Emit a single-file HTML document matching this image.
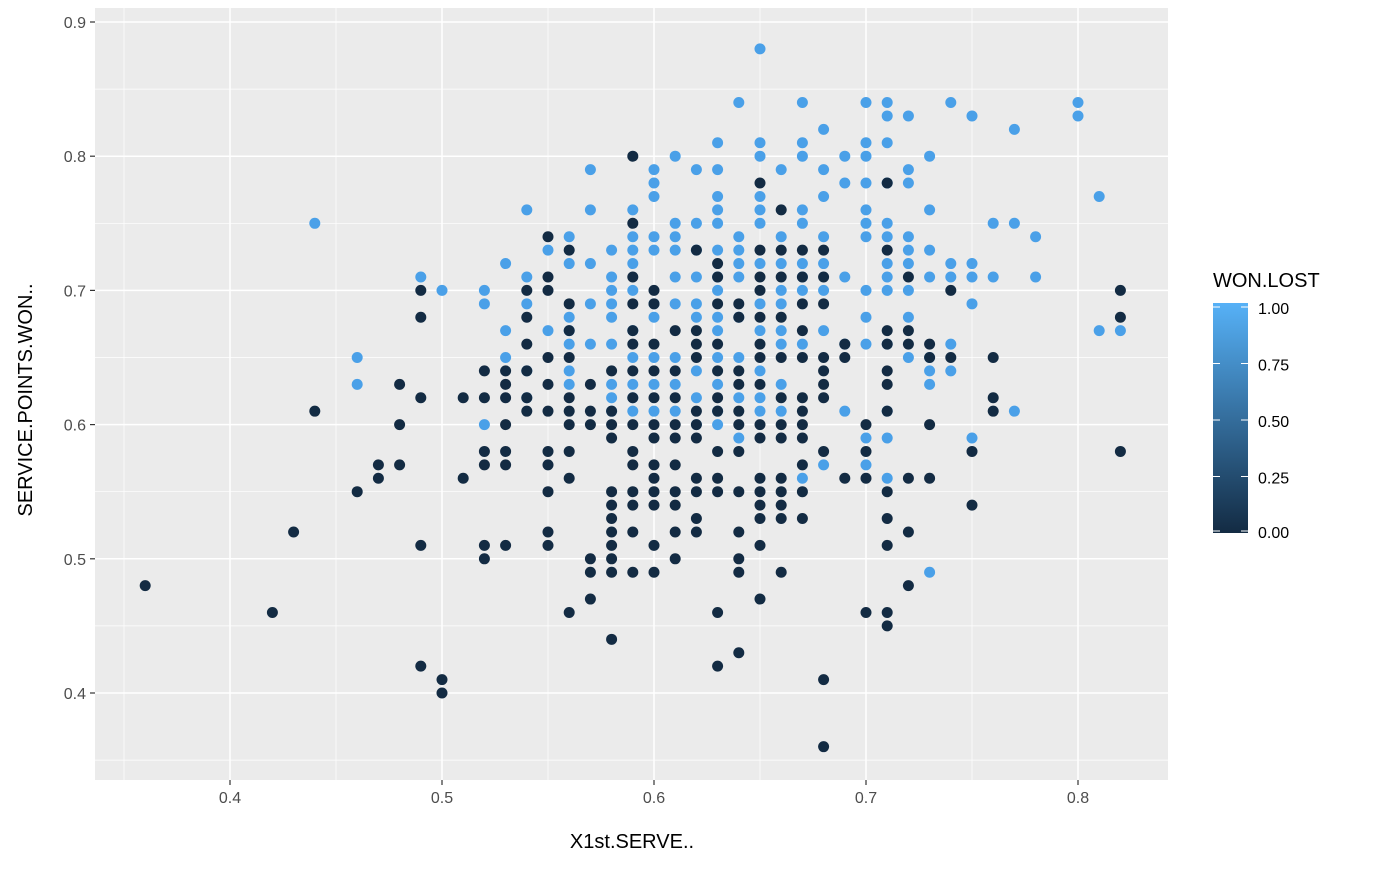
<!DOCTYPE html>
<html><head><meta charset="utf-8"><style>
body{margin:0;background:#fff;font-family:"Liberation Sans",sans-serif}
</style></head><body>
<svg id="chart" width="1400" height="865">
<defs><linearGradient id="cg" x1="0" y1="1" x2="0" y2="0">
<stop offset="0" stop-color="#132B43"/><stop offset="1" stop-color="#56B1F7"/></linearGradient></defs>
<g id="grid"></g><g id="pts"></g><g id="axes"></g>
<g>
<text x="1213" y="287" font-size="20" fill="#000">WON.LOST</text>
<rect x="1213" y="303" width="35" height="230" fill="url(#cg)"/>
<g id="leg"></g></g>
<text x="632" y="848" font-size="20" text-anchor="middle" fill="#000">X1st.SERVE..</text>
<text transform="translate(32,400) rotate(-90)" font-size="20" text-anchor="middle" fill="#000">SERVICE.POINTS.WON..</text>
</svg>
<script>
const xCats=[0.36,0.42,0.43,0.44,0.46,0.47,0.48,0.49,0.50,0.51,0.52,0.53,0.54,0.55,0.56,0.57,0.58,0.59,0.60,0.61,0.62,0.63,0.64,0.65,0.66,0.67,0.68,0.69,0.70,0.71,0.72,0.73,0.74,0.75,0.76,0.77,0.78,0.80,0.81,0.82];
const wonY=["","","","0.75","0.65 0.63","","","0.71","0.70","","0.70 0.69 0.60","0.72 0.67 0.65","0.76 0.71 0.69 0.64 0.62","0.73 0.67","0.74 0.72 0.68 0.67 0.66 0.64 0.63","0.79 0.76 0.72 0.69 0.66","0.73 0.71 0.70 0.69 0.68 0.66 0.63 0.62 0.61","0.76 0.74 0.73 0.72 0.70 0.67 0.65 0.63 0.62 0.61","0.79 0.78 0.77 0.74 0.73 0.69 0.68 0.65 0.63 0.61","0.80 0.75 0.74 0.73 0.71 0.69 0.65 0.63 0.61","0.79 0.75 0.73 0.71 0.69 0.68 0.64 0.62 0.60","0.81 0.79 0.77 0.76 0.75 0.73 0.71 0.70 0.68 0.67 0.65 0.63 0.61 0.60","0.84 0.74 0.73 0.72 0.71 0.68 0.65 0.62 0.59","0.88 0.81 0.80 0.77 0.76 0.75 0.72 0.69 0.67 0.64 0.62 0.61","0.79 0.74 0.72 0.70 0.69 0.67 0.66 0.63 0.61","0.84 0.81 0.80 0.76 0.75 0.72 0.71 0.70 0.66 0.56","0.82 0.79 0.77 0.74 0.72 0.70 0.67 0.57","0.80 0.78 0.71 0.66 0.61","0.84 0.81 0.80 0.78 0.76 0.75 0.74 0.70 0.68 0.66 0.59 0.57","0.84 0.83 0.81 0.78 0.75 0.74 0.72 0.71 0.70 0.66 0.61 0.59 0.56","0.83 0.79 0.78 0.74 0.73 0.72 0.70 0.68 0.65","0.80 0.76 0.73 0.71 0.65 0.64 0.63 0.49","0.84 0.72 0.71 0.66 0.64","0.83 0.72 0.71 0.69 0.59","0.75 0.71","0.82 0.75 0.61","0.74 0.71","0.84 0.83","0.77 0.67","0.67"];
const lostY=["0.48","0.46","0.52","0.61","0.55","0.57 0.56","0.63 0.60 0.57","0.70 0.68 0.62 0.51 0.42","0.41 0.40","0.62 0.56","0.64 0.62 0.58 0.57 0.51 0.50","0.64 0.63 0.62 0.60 0.58 0.57 0.51","0.70 0.68 0.66 0.64 0.62 0.61","0.74 0.71 0.70 0.65 0.63 0.61 0.58 0.57 0.55 0.52 0.51","0.73 0.69 0.67 0.65 0.62 0.61 0.60 0.58 0.56 0.46","0.63 0.61 0.60 0.50 0.49 0.47","0.64 0.61 0.60 0.59 0.55 0.54 0.53 0.52 0.51 0.50 0.49 0.44","0.80 0.75 0.71 0.69 0.67 0.66 0.64 0.62 0.60 0.58 0.57 0.55 0.54 0.52 0.49","0.70 0.69 0.66 0.64 0.62 0.60 0.59 0.57 0.56 0.55 0.54 0.51 0.49","0.67 0.64 0.62 0.60 0.59 0.57 0.55 0.54 0.52 0.50","0.73 0.67 0.66 0.65 0.61 0.60 0.59 0.56 0.55 0.53 0.52","0.72 0.71 0.69 0.66 0.64 0.62 0.61 0.58 0.56 0.55 0.46 0.42","0.69 0.68 0.64 0.63 0.61 0.60 0.58 0.55 0.52 0.50 0.49 0.43","0.78 0.73 0.71 0.70 0.68 0.66 0.65 0.63 0.60 0.59 0.56 0.55 0.54 0.53 0.51 0.47","0.76 0.73 0.71 0.68 0.65 0.62 0.60 0.59 0.56 0.55 0.54 0.53 0.49","0.73 0.71 0.69 0.67 0.65 0.62 0.61 0.60 0.59 0.57 0.55 0.53","0.73 0.71 0.69 0.65 0.64 0.63 0.62 0.58 0.41 0.36","0.66 0.65 0.56","0.60 0.58 0.56 0.46","0.78 0.73 0.67 0.66 0.64 0.63 0.61 0.55 0.53 0.51 0.46 0.45","0.71 0.67 0.66 0.56 0.52 0.48","0.66 0.65 0.60 0.56","0.70 0.65","0.58 0.54","0.65 0.62 0.61","","","","","0.70 0.68 0.58"];
const xTicks=[0.4,0.5,0.6,0.7,0.8];
const yTicks=[0.4,0.5,0.6,0.7,0.8,0.9];
const legTicks=["0.00","0.25","0.50","0.75","1.00"];
const NS="http://www.w3.org/2000/svg";
const X=v=>230+(v-0.4)*2120, Y=v=>693-(v-0.4)*1342;
const P={l:95,r:1168,t:8,b:780};
function mk(tag,at,parent){const e=document.createElementNS(NS,tag);for(const k in at)e.setAttribute(k,at[k]);parent.appendChild(e);return e;}
const g=document.getElementById('grid'),ax=document.getElementById('axes'),pg=document.getElementById('pts');
const bg=mk('rect',{x:P.l,y:P.t,width:P.r-P.l,height:P.b-P.t,fill:'#EBEBEB'},g);


for(let v=0.35;v<0.86;v+=0.1){const l=mk('line',{x1:X(v),x2:X(v),y1:P.t,y2:P.b,stroke:'#fff','stroke-width':0.7},g);

}
for(let v=0.35;v<0.9;v+=0.1){const l=mk('line',{x1:P.l,x2:P.r,y1:Y(v),y2:Y(v),stroke:'#fff','stroke-width':0.7},g);

}
xTicks.forEach(v=>{const l=mk('line',{x1:X(v),x2:X(v),y1:P.t,y2:P.b,stroke:'#fff','stroke-width':1.5},g);


mk('line',{x1:X(v),x2:X(v),y1:P.b,y2:P.b+5,stroke:'#333','stroke-width':1.2},ax);
const t=mk('text',{x:X(v),y:P.b+23,'font-size':16,'text-anchor':'middle',fill:'#4D4D4D'},ax);t.textContent=v.toFixed(1);

});
yTicks.forEach(v=>{const l=mk('line',{x1:P.l,x2:P.r,y1:Y(v),y2:Y(v),stroke:'#fff','stroke-width':1.5},g);


mk('line',{x1:P.l-5,x2:P.l,y1:Y(v),y2:Y(v),stroke:'#333','stroke-width':1.2},ax);
const t=mk('text',{x:P.l-9,y:Y(v)+6,'font-size':16,'text-anchor':'end',fill:'#4D4D4D'},ax);t.textContent=v.toFixed(1);

});
function draw(arr,col,name){arr.forEach((s,i)=>{if(!s)return;s.split(' ').forEach(y=>{const c=mk('circle',{cx:X(xCats[i]),cy:Y(+y),r:5.5,fill:col},pg);

});});}
draw(wonY,'#4AA0E8','point-won');
draw(lostY,'#132B43','point-lost');
const lg=document.getElementById('leg');
legTicks.forEach((s,i)=>{const y=533-i*56.5+ (i==0?-2:0);
mk('line',{x1:1213,x2:1220,y1:y,y2:y,stroke:'#fff','stroke-width':1},lg);
mk('line',{x1:1241,x2:1248,y1:y,y2:y,stroke:'#fff','stroke-width':1},lg);
const t=mk('text',{x:1258,y:y+7,'font-size':16,fill:'#000'},lg);t.textContent=s;

});
</script>
</body></html>
